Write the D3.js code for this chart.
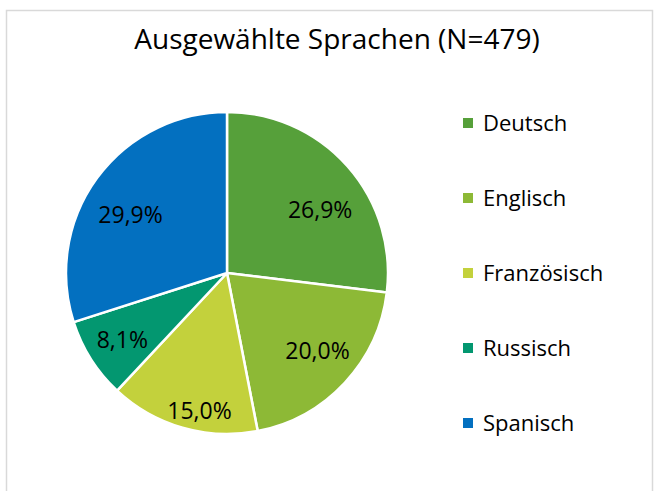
<!DOCTYPE html>
<html lang="de">
<head>
<meta charset="utf-8">
<title>Ausgewählte Sprachen</title>
<script src="https://cdn.jsdelivr.net/npm/d3@7"></script>
<style>
  body { margin: 0; background: #fff; }
  text { font-family: "Open Sans", sans-serif; fill: #000; }
</style>
</head>
<body>
<script>
// data
var languages = ["Deutsch", "Englisch", "Französisch", "Russisch", "Spanisch"];
var shares = [26.9, 20.0, 15.0, 8.1, 29.9];
var chartTitle = "Ausgewählte Sprachen (N=479)";

var colors = ["#56A03A", "#8DB936", "#C3D13C", "#039770", "#0370C0"];
// label placement: distance (fraction of radius) and angle shift (deg) from the slice middle
var labelDist = [0.70, 0.74, 0.87, 0.77, 0.70];
var labelShift = [7.3, -2.4, -4.7, 0, -5.0];

var w = 654, h = 491;
var cx = 227, cy = 273, r = 161;

var svg = d3.select("body").append("svg")
    .attr("width", w)
    .attr("height", h);

svg.append("rect")
    .attr("x", 6.5).attr("y", 10.5)
    .attr("width", 646).attr("height", 500)
    .attr("fill", "#fff")
    .attr("stroke", "#d9d9d9")
    .attr("stroke-width", 1.5);

svg.append("text")
    .attr("x", 337).attr("y", 49)
    .attr("text-anchor", "middle")
    .style("font-size", "28px")
    .text(chartTitle);

var pie = d3.pie().sort(null).value(function(d) { return d; });
var arcs = pie(shares);
var arc = d3.arc().innerRadius(0).outerRadius(r);

var g = svg.append("g").attr("transform", "translate(" + cx + "," + cy + ")");

g.selectAll("path")
  .data(arcs)
  .enter()
  .append("path")
  .attr("d", arc)
  .attr("fill", function(d, i) { return colors[i]; })
  .attr("stroke", "#fff")
  .attr("stroke-width", 2.5)
  .attr("stroke-linejoin", "round");

function labelAngle(d, i) {
  return (d.startAngle + d.endAngle) / 2 + labelShift[i] * Math.PI / 180;
}

g.selectAll("text.lbl")
  .data(arcs)
  .enter()
  .append("text")
  .attr("class", "lbl")
  .attr("x", function(d, i) { return Math.sin(labelAngle(d, i)) * r * labelDist[i]; })
  .attr("y", function(d, i) { return -Math.cos(labelAngle(d, i)) * r * labelDist[i]; })
  .attr("dy", "0.36em")
  .attr("text-anchor", "middle")
  .style("font-size", "23px")
  .text(function(d) { return d3.format(".1f")(d.value).replace(".", ",") + "%"; });

var yLeg = d3.scalePoint().domain(languages).range([123, 423]);

var leg = svg.selectAll("g.leg")
  .data(languages)
  .enter()
  .append("g")
  .attr("class", "leg")
  .attr("transform", function(d) { return "translate(463," + yLeg(d) + ")"; });

leg.append("rect")
  .attr("x", 0).attr("y", -5)
  .attr("width", 10).attr("height", 10)
  .attr("fill", function(d, i) { return colors[i]; });

leg.append("text")
  .attr("x", 20)
  .attr("dy", "0.36em")
  .style("font-size", "22px")
  .text(function(d) { return d; });
</script>
</body>
</html>
